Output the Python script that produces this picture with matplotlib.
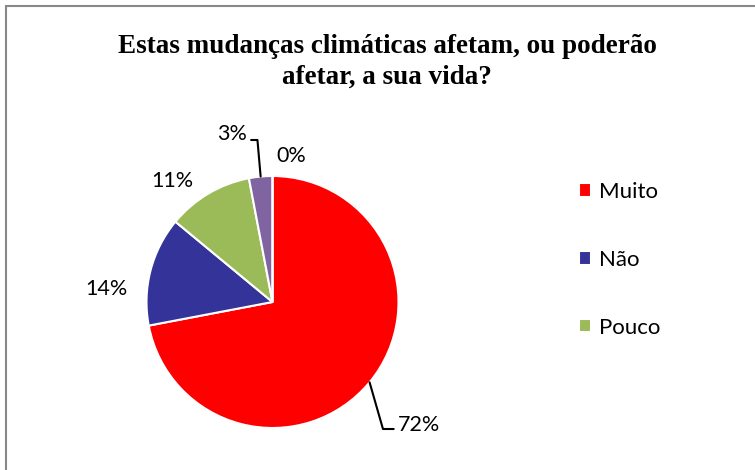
import numpy as np
import matplotlib.pyplot as plt
from matplotlib.patches import Rectangle

categories = ['Muito', 'Não', 'Pouco', 'Nada', 'Não sei']
values = [72, 14, 11, 3, 0]
colors = ['#FF0000', '#333399', '#9BBB59', '#8064A2', '#4BACC6']
legend_count = 3

title = 'Estas mudanças climáticas afetam, ou poderão\nafetar, a sua vida?'

W, H = 755, 470
cx, cy, R = 272.5, 302, 126  # pie centre / radius in pixels

fig = plt.figure(figsize=(W / 100, H / 100), dpi=100)
ax = fig.add_axes([0, 0, 1, 1])

wedges, _ = ax.pie(values, colors=colors, startangle=90, counterclock=False,
                   wedgeprops=dict(edgecolor='white', linewidth=1.5))
ax.set_xlim(-cx / R, (W - cx) / R)
ax.set_ylim(-(H - cy) / R, cy / R)
ax.axis('off')


def px(x, y):
    return ((x - cx) / R, (cy - y) / R)


def edge(w, r=1.0):
    a = np.deg2rad((w.theta1 + w.theta2) / 2)
    return (r * np.cos(a), r * np.sin(a))


label_font = dict(family=['Lato', 'DejaVu Sans'], fontsize=15.5, color='black')
labels = [f'{v}%' for v in values]
label_pos = [(419, 425), (106, 289), (172, 181), (232, 134), (291, 156)]

for i, (w, lab, pos) in enumerate(zip(wedges, labels, label_pos)):
    if i == 0:
        ax.annotate(lab, xy=edge(w), xytext=px(*pos), ha='center', va='center',
                    arrowprops=dict(arrowstyle='-', color='black', lw=1.5,
                                    shrinkA=1, shrinkB=0, relpos=(0, 0.3),
                                    connectionstyle='angle,angleA=180,angleB=106,rad=0'),
                    **label_font)
    elif i == 3:
        ax.annotate(lab, xy=edge(w), xytext=px(*pos), ha='center', va='center',
                    arrowprops=dict(arrowstyle='-', color='black', lw=1.5,
                                    shrinkA=1, shrinkB=0, relpos=(1, 0.2),
                                    connectionstyle='angle,angleA=0,angleB=95,rad=0'),
                    **label_font)
    else:
        ax.text(*px(*pos), lab, ha='center', va='center', **label_font)

fig.text(387 / W, 1 - 62 / H, title, ha='center', va='center',
         family=['Liberation Serif', 'DejaVu Serif'], fontweight='bold',
         fontsize=19.5, linespacing=1.3)

ax.legend(wedges[:legend_count], categories[:legend_count],
          loc='upper left', bbox_to_anchor=(579 / W, 1 - 182 / H),
          bbox_transform=fig.transFigure, frameon=False,
          prop=dict(family=['Lato', 'DejaVu Sans'], size=16),
          handlelength=0.55, handleheight=0.55, handletextpad=0.35,
          labelspacing=2.15, borderpad=0, borderaxespad=0)

# chart border (cropped on right and bottom)
fig.add_artist(Rectangle((6 / W, -0.1), 1.2, 1 - 6 / H + 0.1,
                         transform=fig.transFigure, fill=False,
                         edgecolor='#888888', linewidth=1.5))

fig.savefig('out.png', dpi=100)
